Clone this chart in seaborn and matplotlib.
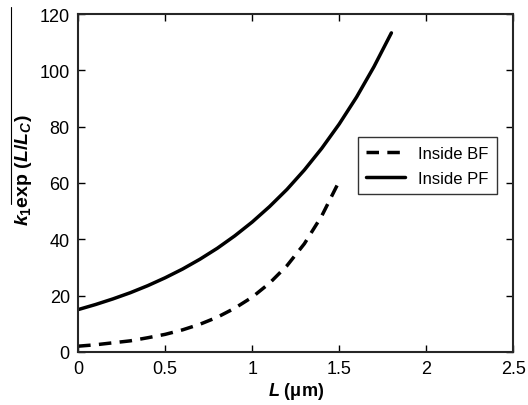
import numpy as np
import pandas as pd
import matplotlib as mpl
import matplotlib.pyplot as plt
import seaborn as sns
from matplotlib.lines import Line2D

# values
L_pf = [0.0, 0.1, 0.2, 0.3, 0.4, 0.5, 0.6, 0.7, 0.8, 0.9, 1.0,
        1.1, 1.2, 1.3, 1.4, 1.5, 1.6, 1.7, 1.8]
k_pf = [15.0, 16.8, 18.8, 21.0, 23.5, 26.3, 29.4, 32.9, 36.8, 41.2, 46.1,
        51.6, 57.7, 64.6, 72.3, 80.9, 90.5, 101.3, 113.3]
L_bf = [0.0, 0.1, 0.2, 0.3, 0.4, 0.5, 0.6, 0.7, 0.8, 0.9, 1.0,
        1.1, 1.2, 1.3, 1.4, 1.5]
k_bf = [2.0, 2.5, 3.2, 3.9, 5.0, 6.2, 7.8, 9.8, 12.3, 15.5, 19.4,
        24.4, 30.6, 38.4, 48.3, 60.6]
xticks = [0, 0.5, 1, 1.5, 2, 2.5]
xticklabels = ['0', '0.5', '1', '1.5', '2', '2.5']
yticks = [0, 20, 40, 60, 80, 100, 120]

sns.set_style("ticks")
mpl.rcParams['font.family'] = ['Liberation Sans', 'DejaVu Sans']
mpl.rcParams['mathtext.fontset'] = 'custom'
mpl.rcParams['mathtext.it'] = 'Liberation Sans:italic:bold'
mpl.rcParams['mathtext.rm'] = 'Liberation Sans:bold'
mpl.rcParams['mathtext.bf'] = 'Liberation Sans:bold'
mpl.rcParams['text.color'] = 'black'
mpl.rcParams['axes.labelcolor'] = 'black'
mpl.rcParams['xtick.color'] = 'black'
mpl.rcParams['ytick.color'] = 'black'

df_bf = pd.DataFrame({"L": L_bf, "k": k_bf})
df_pf = pd.DataFrame({"L": L_pf, "k": k_pf})

fig = plt.figure(figsize=(5.28, 4.06), dpi=100)
ax = fig.add_axes([0.148, 0.131, 0.824, 0.832])

sns.lineplot(data=df_bf, x="L", y="k", ax=ax, color="black", lw=2.5,
             linestyle=(0, (3.6, 2.4)), label="Inside BF")
sns.lineplot(data=df_pf, x="L", y="k", ax=ax, color="black", lw=2.5,
             label="Inside PF")

ax.set_xlim(0, 2.5)
ax.set_ylim(0, 120)
ax.set_xticks(xticks)
ax.set_xticklabels(xticklabels)
ax.set_yticks(yticks)
ax.tick_params(direction="in", top=True, right=True, labelsize=13,
               length=5, width=1, pad=6)
for s in ax.spines.values():
    s.set_linewidth(1.5)
    s.set_visible(True)

ax.set_xlabel(r"$L$ (μm)", fontsize=13, fontweight="bold", labelpad=2)
ax.set_ylabel(r"$k_1$exp ($L$/$L_C$)", fontsize=14, fontweight="bold")
ax.yaxis.set_label_coords(-0.101, 0.54)

leg = ax.legend(loc="upper left", bbox_to_anchor=(0.624, 0.66),
                fontsize=12, frameon=True, fancybox=False, edgecolor="black",
                handlelength=2.3, borderpad=0.5, labelspacing=0.6)
leg.get_frame().set_linewidth(1.0)

# thin line above the y label as in the original
fig.add_artist(Line2D([11 / 528, 11 / 528], [1 - 8 / 406, 1 - 205 / 406],
                      color="black", lw=0.8))

fig.savefig("out.png", dpi=100)
